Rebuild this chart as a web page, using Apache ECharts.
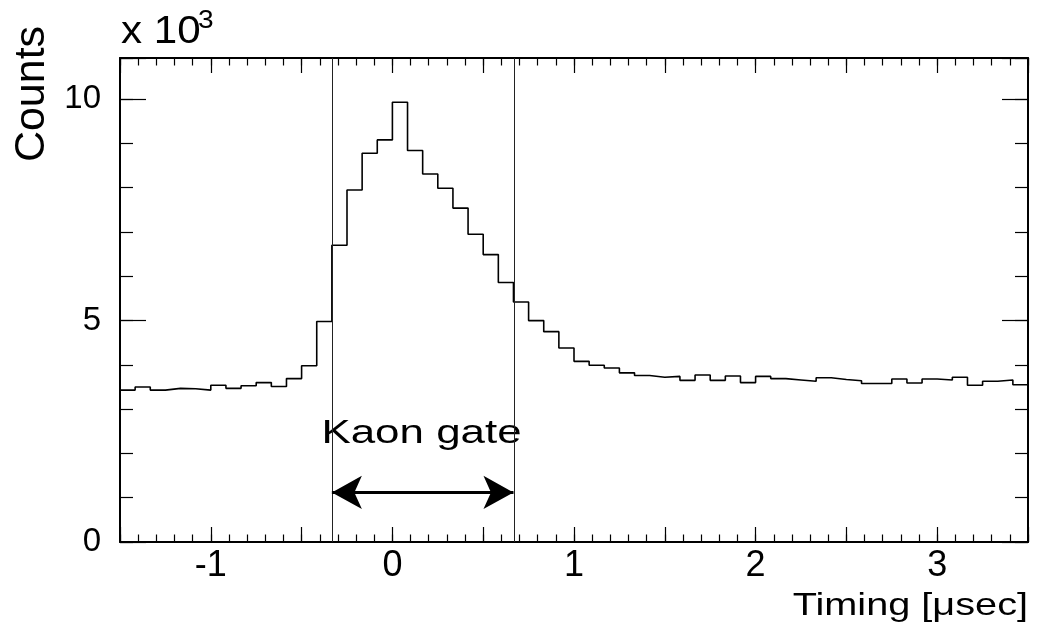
<!DOCTYPE html>
<html><head><meta charset="utf-8">
<script src="https://cdn.jsdelivr.net/npm/echarts@6/dist/echarts.min.js"></script>
<style>html,body{margin:0;padding:0;background:#fff}#c{width:1037px;height:633px}</style>
</head><body><div id="c"></div>
<script>
// ---- data (counts in units of 10^3) ----
const BIN_MIN = -1.5;
const BIN_MAX = 3.5;
const counts = [
  3.43, 3.50, 3.43, 3.47, 3.46, 3.43, 3.54, 3.47, 3.53, 3.60,
  3.51, 3.69, 3.98, 4.98, 6.70, 7.95, 8.78, 9.08, 9.93, 8.84,
  8.31, 7.99, 7.54, 6.95, 6.49, 5.86, 5.42, 5.00, 4.75, 4.38,
  4.08, 3.99, 3.93, 3.82, 3.76, 3.72, 3.74, 3.65, 3.77, 3.65,
  3.75, 3.60, 3.74, 3.69, 3.66, 3.63, 3.71, 3.67, 3.64, 3.58,
  3.58, 3.68, 3.59, 3.68, 3.66, 3.72, 3.54, 3.63, 3.66, 3.55
];
const gateEdges = [-0.3333, 0.6667];
const arrowLevel = 1.12;
const xLabelValues = [-1, 0, 1, 2, 3];
const yLabelValues = [0, 5, 10];
const Y_MAX = 10.93;

const binWidth = (BIN_MAX - BIN_MIN) / counts.length;
const stepData = counts.map((c, i) => [BIN_MIN + i * binWidth, c]);
stepData.push([BIN_MAX, counts[counts.length - 1]]);

const FONT = '"Liberation Sans", Arial, Helvetica, sans-serif';
const G = { left: 120, top: 58, width: 908, height: 484 };

function xAx(grid, pos, interval, len, labels, line) {
  return {
    type: 'value', gridIndex: grid, position: pos, min: BIN_MIN, max: BIN_MAX, interval: interval,
    axisLine: { show: line, onZero: false, lineStyle: { color: '#000', width: 2 } },
    axisTick: { show: true, inside: true, length: len, lineStyle: { color: '#000', width: 1.2 } },
    axisLabel: labels ? {
      show: true, margin: 6, fontFamily: FONT, fontSize: 36, color: '#000',
      formatter: v => (xLabelValues.indexOf(Math.round(v * 1000) / 1000) >= 0 ? String(Math.round(v)) : '')
    } : { show: false },
    splitLine: { show: false }
  };
}
function yAx(grid, pos, interval, len, labels, line) {
  return {
    type: 'value', gridIndex: grid, position: pos, min: 0, max: Y_MAX, interval: interval,
    axisLine: { show: line, onZero: false, lineStyle: { color: '#000', width: 2 } },
    axisTick: { show: true, inside: true, length: len, lineStyle: { color: '#000', width: 1.2 } },
    axisLabel: labels ? {
      show: true, margin: 19, fontFamily: FONT, fontSize: 33, color: '#000',
      formatter: v => (yLabelValues.indexOf(v) >= 0 ? String(v) : '')
    } : { show: false },
    splitLine: { show: false }
  };
}

const chart = echarts.init(document.getElementById('c'), null, { renderer: 'canvas' });
chart.setOption({
  backgroundColor: '#fff',
  animation: false,
  grid: [Object.assign({}, G), Object.assign({}, G)],
  xAxis: [
    xAx(0, 'bottom', 0.5, 15, true, true),
    xAx(0, 'top', 0.5, 15, false, true),
    xAx(1, 'bottom', 0.1, 7.5, false, false),
    xAx(1, 'top', 0.1, 7.5, false, false)
  ],
  yAxis: [
    yAx(0, 'left', 5, 26, true, true),
    yAx(0, 'right', 5, 26, false, true),
    yAx(1, 'left', 1, 13, false, false),
    yAx(1, 'right', 1, 13, false, false)
  ],
  series: [{
    type: 'line', xAxisIndex: 0, yAxisIndex: 0, step: 'end', data: stepData,
    showSymbol: false, symbol: 'none', silent: true,
    lineStyle: { color: '#000', width: 1.6 },
    markLine: {
      silent: true, symbol: ['none', 'none'], animation: false,
      label: { show: false },
      lineStyle: { color: '#222', width: 1, type: 'solid' },
      emphasis: { disabled: true },
      data: [
        { xAxis: gateEdges[0] },
        { xAxis: gateEdges[1] },
        [
          { coord: [gateEdges[0], arrowLevel], symbol: 'arrow', symbolSize: [25, 30],
            lineStyle: { color: '#000', width: 3, type: 'solid' } },
          { coord: [gateEdges[1], arrowLevel], symbol: 'arrow', symbolSize: [25, 30] }
        ]
      ]
    }
  }],
  graphic: [
    { type: 'text', x: 32, y: 94, rotation: Math.PI / 2,
      style: { text: 'Counts', fontFamily: FONT, fontSize: 43, fill: '#000', align: 'center', verticalAlign: 'middle' } },
    { type: 'text', x: 121, y: 32.5, scaleX: 1.08,
      style: { text: 'x 10', fontFamily: FONT, fontSize: 39, fill: '#000', align: 'left', verticalAlign: 'middle' } },
    { type: 'text', x: 198, y: 20.5, scaleX: 1.08,
      style: { text: '3', fontFamily: FONT, fontSize: 26, fill: '#000', align: 'left', verticalAlign: 'middle' } },
    { type: 'text', x: 1028, y: 606.5, scaleX: 1.24,
      style: { text: 'Timing [\u03bcsec]', fontFamily: FONT, fontSize: 32, fill: '#000', align: 'right', verticalAlign: 'middle' } },
    { type: 'text', x: 421.5, y: 433.5, scaleX: 1.33,
      style: { text: 'Kaon gate', fontFamily: FONT, fontSize: 33, fill: '#000', align: 'center', verticalAlign: 'middle' } }
  ]
});
</script>
</body></html>
